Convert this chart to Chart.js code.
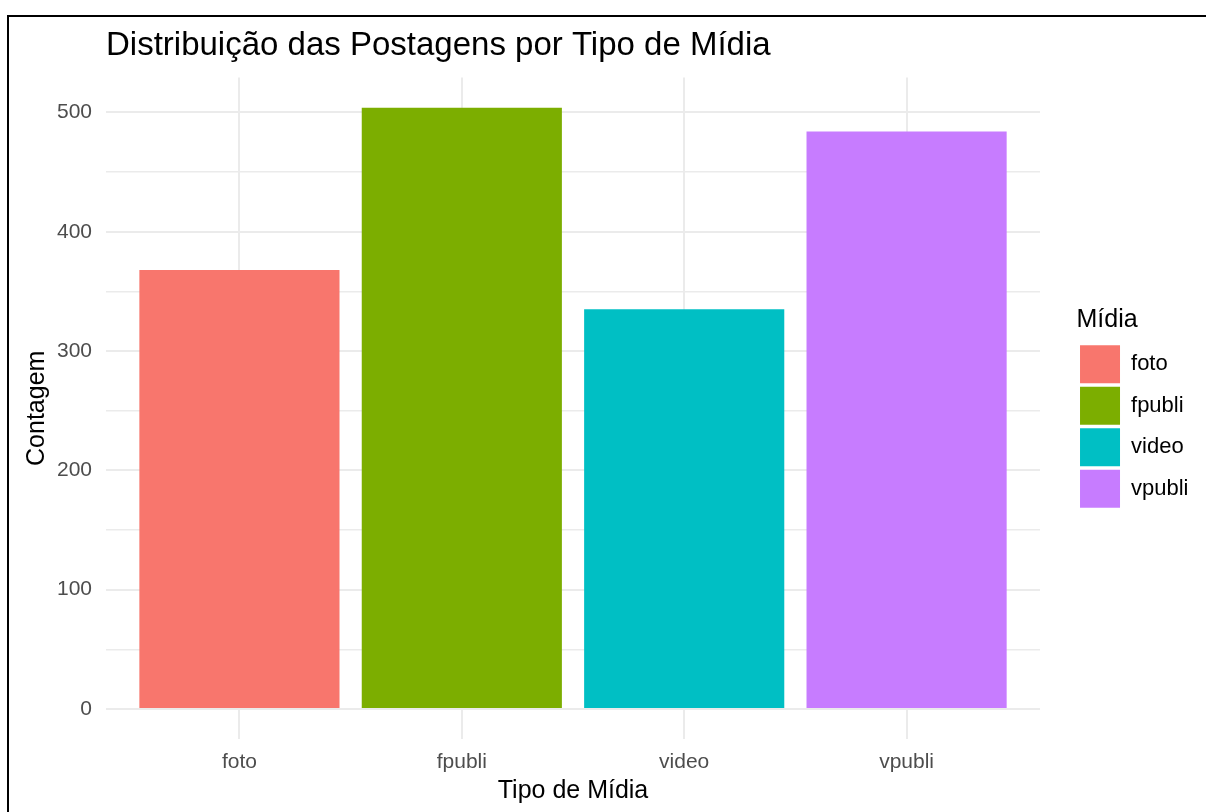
<!DOCTYPE html>
<html lang="pt">
<head>
<meta charset="utf-8">
<title>Distribuição das Postagens por Tipo de Mídia</title>
<script src="https://cdn.jsdelivr.net/npm/chart.js@4.4.1/dist/chart.umd.min.js"></script>
<style>
  html, body { margin: 0; padding: 0; background: #fff; }
  #box {
    position: absolute;
    left: 7px;
    top: 15px;
    width: 1197px;
    height: 795px;
    border-left: 2px solid #000;
    border-top: 2px solid #000;
  }
</style>
</head>
<body>
<div id="box"><canvas id="grafico"></canvas></div>
<script>
// dados
const categorias = ["foto", "fpubli", "video", "vpubli"];
const contagens = [368, 504, 335, 484];
const cores = ["#F8766D", "#7CAE00", "#00BFC4", "#C77CFF"];
const ticksY = [0, 50, 100, 150, 200, 250, 300, 350, 400, 450, 500];

const fonte = "'Liberation Sans', Arial, Helvetica, sans-serif";
const maxV = Math.max(...contagens);

const ctx = document.getElementById("grafico").getContext("2d");

const grafico = new Chart(ctx, {
  type: "bar",
  data: {
    datasets: [
      {
        label: "Contagem",
        data: contagens.map((v, i) => ({ x: i + 1, y: v })),
        backgroundColor: cores,
        borderWidth: 0,
        categoryPercentage: 1,
        barPercentage: 0.9,
      },
    ],
  },
  options: {
    responsive: true,
    maintainAspectRatio: false,
    animation: false,
    layout: {
      padding: { left: 0, right: 7.5, top: 0, bottom: 0 },
    },
    plugins: {
      title: {
        display: true,
        text: "Distribuição das Postagens por Tipo de Mídia",
        align: "start",
        fullSize: false,
        color: "#000",
        font: { family: fonte, size: 33, weight: "normal" },
        padding: { top: 9, bottom: 12 },
      },
      legend: {
        display: true,
        position: "right",
        fullSize: false,
        align: "center",
        title: {
          display: true,
          text: "Mídia",
          position: "start",
          color: "#000",
          font: { family: fonte, size: 25 },
          padding: { top: 2, bottom: 4.5 },
        },
        labels: {
          boxWidth: 40,
          boxHeight: 38,
          padding: 3.5,
          color: "#000",
          font: { family: fonte, size: 22 },
          generateLabels: () =>
            categorias.map((c, i) => ({
              text: c,
              fillStyle: cores[i],
              strokeStyle: cores[i],
              lineWidth: 0,
              hidden: false,
              index: i,
              datasetIndex: 0,
            })),
        },
        onClick: () => {},
      },
      tooltip: { enabled: false },
    },
    scales: {
      x: {
        type: "linear",
        min: 0.4,
        max: 4.6,
        offset: false,
        afterBuildTicks: (s) => {
          s.ticks = categorias.map((c, i) => ({ value: i + 1 }));
        },
        afterFit: (s) => {
          s.height = 73;
        },
        grid: { color: "#ebebeb", lineWidth: 2, drawTicks: false, offset: false },
        border: { display: false },
        ticks: {
          autoSkip: false,
          maxRotation: 0,
          padding: 11,
          color: "#4d4d4d",
          font: { family: fonte, size: 21 },
          callback: (v) => categorias[v - 1],
        },
        title: {
          display: true,
          text: "Tipo de Mídia",
          color: "#000",
          font: { family: fonte, size: 25 },
          padding: { top: 0, bottom: 6 },
        },
      },
      y: {
        min: -0.05 * maxV,
        max: 1.05 * maxV,
        afterBuildTicks: (s) => {
          s.ticks = ticksY.map((v) => ({ value: v }));
        },
        afterFit: (s) => {
          s.width = 97;
        },
        grid: {
          color: "#ebebeb",
          lineWidth: (c) => (c.tick && c.tick.value % 100 === 0 ? 2 : 1.5),
          drawTicks: false,
        },
        border: { display: false },
        ticks: {
          padding: 14,
          color: "#4d4d4d",
          font: { family: fonte, size: 21 },
          callback: (v) => (v % 100 === 0 ? v : ""),
        },
        title: {
          display: true,
          text: "Contagem",
          color: "#000",
          font: { family: fonte, size: 25 },
          padding: { top: 13, bottom: 0 },
        },
      },
      // espaço vazio entre o painel e a legenda
      espaco: {
        type: "linear",
        axis: "y",
        position: "right",
        display: true,
        grid: { display: false },
        border: { display: false },
        ticks: { display: false },
        afterFit: (s) => {
          s.width = 36.5;
        },
      },
    },
  },
});
</script>
</body>
</html>
